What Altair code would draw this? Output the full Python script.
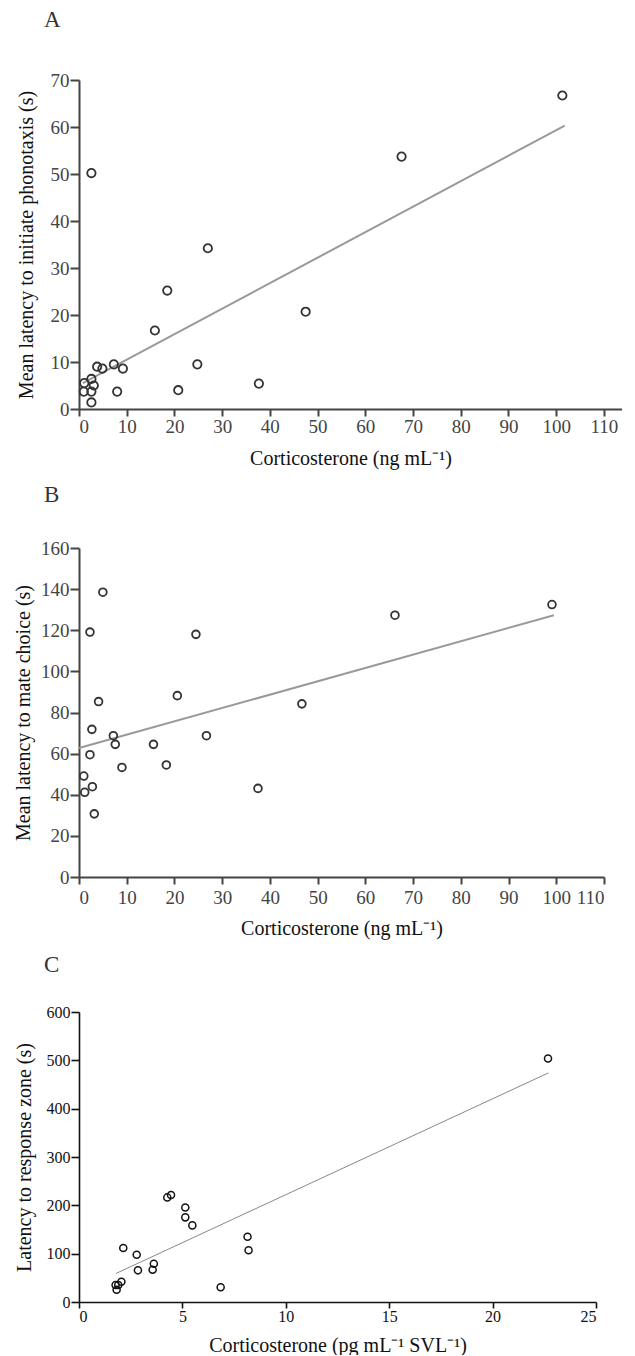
import altair as alt
import pandas as pd

FONT = "Liberation Serif"

# Panel A
a_cort = [2.6, 27.0, 18.5, 15.9, 47.5, 24.8, 20.8, 37.7, 9.2, 7.3, 8.0, 3.8, 4.9, 2.6, 3.1, 1.1, 1.0, 2.6, 2.6, 67.6, 101.3]
a_lat = [50.2, 34.2, 25.2, 16.7, 20.7, 9.5, 4.0, 5.4, 8.6, 9.5, 3.7, 9.0, 8.6, 6.4, 5.0, 5.5, 3.7, 3.7, 1.4, 53.7, 66.7]
a_fit_x = [0.8, 101.8]
a_fit_y = [5.5, 60.3]

# Panel B
b_cort = [5.0, 2.3, 24.5, 20.6, 4.1, 46.7, 2.7, 7.2, 26.7, 7.6, 15.6, 2.3, 9.0, 18.3, 1.0, 1.2, 2.8, 37.5, 3.2, 66.2, 99.1]
b_lat = [138.5, 119.1, 118.0, 88.2, 85.3, 84.2, 71.8, 68.7, 68.7, 64.5, 64.5, 59.5, 53.3, 54.5, 49.1, 41.2, 43.9, 43.1, 30.7, 127.3, 132.5]
b_fit_x = [0.0, 99.5]
b_fit_y = [62.7, 127.3]

# Panel C
c_cort = [2.14, 2.79, 2.85, 3.56, 3.62, 4.27, 4.45, 5.14, 5.14, 5.48, 6.85, 8.15, 8.2, 1.77, 1.82, 1.9, 2.05, 22.68]
c_lat = [111.6, 97.8, 65.5, 66.8, 79.2, 216.4, 221.2, 195.7, 175.1, 158.5, 30.4, 135.0, 106.9, 35.0, 25.4, 35.0, 42.0, 503.7]
c_fit_x = [1.8, 22.7]
c_fit_y = [59.3, 474.0]


def panel(letter, xs, ys, fx, fy, xdom, xticks, ydom, yticks, xtitle, ytitle,
          w, h, axcol, dwidth, lsize, tsize, xlp, xtp, ytp, ptcol, ptsize, ptstroke,
          lncol, lnw, toff):
    pts = pd.DataFrame({"x": xs, "y": ys})
    fit = pd.DataFrame({"x": fx, "y": fy})
    xax = alt.Axis(values=xticks, title=xtitle, grid=False, domainColor=axcol, domainWidth=dwidth,
                   tickColor=axcol, tickWidth=dwidth, tickSize=tsize, labelColor=axcol,
                   labelFont=FONT, labelFontSize=lsize, titleFont=FONT, titleFontSize=20,
                   titleFontWeight="normal", titleColor="#111", labelPadding=xlp,
                   titlePadding=xtp)
    yax = alt.Axis(values=yticks, title=ytitle, grid=False, domainColor=axcol, domainWidth=dwidth,
                   tickColor=axcol, tickWidth=dwidth, tickSize=tsize + 2, labelColor=axcol,
                   labelFont=FONT, labelFontSize=lsize, titleFont=FONT, titleFontSize=20,
                   titleFontWeight="normal", titleColor="#111", labelPadding=1,
                   titlePadding=ytp)
    xs_ = alt.Scale(domain=xdom, nice=False, zero=False)
    ys_ = alt.Scale(domain=ydom, nice=False, zero=False)
    line = alt.Chart(fit).mark_line(color=lncol, strokeWidth=lnw).encode(
        x=alt.X("x:Q", scale=xs_, axis=xax), y=alt.Y("y:Q", scale=ys_, axis=yax))
    dots = alt.Chart(pts).mark_point(shape="circle", filled=False, color=ptcol,
                                     size=ptsize, strokeWidth=ptstroke, opacity=1).encode(
        x=alt.X("x:Q", scale=xs_, axis=xax), y=alt.Y("y:Q", scale=ys_, axis=yax))
    return alt.layer(line, dots).properties(
        width=w, height=h,
        title=alt.TitleParams(text=letter, anchor="start", frame="group", font=FONT, fontSize=23,
                              fontWeight="normal", color="#333", dx=-35, offset=toff))


pa = panel("A", a_cort, a_lat, a_fit_x, a_fit_y, [0, 113.8], list(range(0, 111, 10)),
           [0, 70], list(range(0, 71, 10)), "Corticosterone (ng mL⁻¹)",
           "Mean latency to initiate phonotaxis (s)", 543, 329, "#444", 2, 19, 7, 1, 12, 14,
           "#333", 70, 1.8, "#999", 2, 39)
pb = panel("B", b_cort, b_lat, b_fit_x, b_fit_y, [0, 110], list(range(0, 111, 10)),
           [0, 160], list(range(0, 161, 20)), "Corticosterone (ng mL⁻¹)",
           "Mean latency to mate choice (s)", 525, 329, "#444", 2, 19, 7, 4, 11, 7,
           "#333", 60, 1.8, "#999", 2, 32)
pc = panel("C", c_cort, c_lat, c_fit_x, c_fit_y, [0, 25], list(range(0, 26, 5)),
           [0, 600], list(range(0, 601, 100)), "Corticosterone (pg mL⁻¹ SVL⁻¹)",
           "Latency to response zone (s)", 517, 290, "#111", 1.6, 16, 6, 0, 11, 12,
           "#111", 50, 1.5, "#888", 1, 27)

chart = alt.vconcat(pa, pb, pc, spacing=16).properties(
    padding={"left": 5, "top": 1, "right": 0, "bottom": 0},
    background="white"
).configure_view(stroke=None, strokeWidth=0)

chart.save("out.html", embed_options={"renderer": "svg", "actions": False})
